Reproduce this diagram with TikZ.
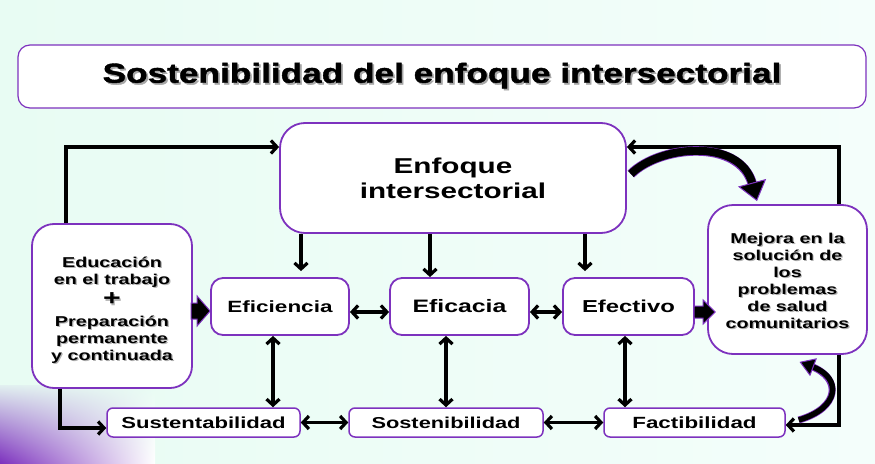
\documentclass[tikz,border=0pt]{standalone}
\usepackage{fontspec}
\setmainfont[FakeStretch=1.38]{Liberation Sans}
\newfontfamily\tfont[FakeStretch=1.28,FakeBold=1.5]{Liberation Sans Bold}
\usetikzlibrary{arrows.meta,calc,backgrounds,shadings}
\definecolor{purp}{HTML}{7D32BE}
\definecolor{bgl}{HTML}{E8FCF3}
\definecolor{bgr}{HTML}{F4FEFB}
\newcommand\shd[1]{\leavevmode\rlap{\kern1.2pt\raisebox{-1.2pt}{\textcolor{black!30}{#1}}}#1}
\newcommand\tshd[1]{\leavevmode\rlap{\kern1.8pt\raisebox{-1.8pt}{\textcolor{black!35}{#1}}}#1}
\begin{document}
\begin{tikzpicture}[x=1pt,y=-1pt,
  box/.style={draw=purp,line width=1.8pt,fill=white,align=center,inner sep=0pt},
  ln/.style={line width=3.2pt},
  arr/.style={ln,-{Straight Barb[length=6pt,width=13pt]}},
  darr/.style={ln,{Straight Barb[length=6pt,width=13pt]}-{Straight Barb[length=6pt,width=13pt]}},
  blk/.style={fill=black,draw=purp,line width=1pt}]
\useasboundingbox (0,0) rectangle (875,463);
\begin{scope}[on background layer]
  \shade[left color=bgl,right color=bgr] (0,0) rectangle (875,463);
  \shade[lower left=purp, lower right=white, upper left=purp!6!bgl, upper right=bgl] (0,385) rectangle (155,463);
\end{scope}

% title
\node[box,line width=1.2pt,rounded corners=12pt,minimum width=848pt,minimum height=63pt] (title) at (442,76.5)
  {\tfont\fontsize{27.5}{30}\selectfont\tshd{Sostenibilidad del enfoque intersectorial}};

% main nodes
\node[box,rounded corners=25pt,minimum width=346pt,minimum height=110pt,font=\bfseries\fontsize{21.5}{25}\selectfont] (enf) at (453,178) {Enfoque\\intersectorial};
\node[box,rounded corners=22pt,minimum width=160pt,minimum height=164pt,font=\bfseries\fontsize{14.3}{17}\selectfont] (edu) at (112,306)
  {\rule{0pt}{20pt}\shd{Educación}\\\shd{en el trabajo}\\[3.5pt]{\fontsize{22}{17}\selectfont\shd{+}}\\[3.5pt]\shd{Preparación}\\\shd{permanente}\\\shd{y continuada}};
\node[box,rounded corners=12pt,minimum width=138pt,minimum height=57pt,font=\bfseries\fontsize{16.3}{19}\selectfont] (efi) at (280,306.5) {Eficiencia};
\node[box,rounded corners=12pt,minimum width=139pt,minimum height=57pt,font=\bfseries\fontsize{18}{21}\selectfont] (efa) at (459.5,306.5) {Eficacia};
\node[box,rounded corners=12pt,minimum width=131pt,minimum height=57pt,font=\bfseries\fontsize{17.3}{20}\selectfont] (efe) at (628.5,306.5) {Efectivo};
\node[box,rounded corners=25pt,minimum width=159pt,minimum height=149pt,font=\bfseries\fontsize{14.3}{17}\selectfont] (mej) at (787.5,279.5)
  {\rule{0pt}{14pt}\shd{Mejora en la}\\\shd{solución de}\\\shd{los}\\\shd{problemas}\\\shd{de salud}\\\shd{comunitarios}};
\node[box,line width=1.5pt,rounded corners=6pt,minimum width=193pt,minimum height=29pt,font=\bfseries\fontsize{16}{19}\selectfont] (sus) at (203.5,422.5) {Sustentabilidad};
\node[box,line width=1.5pt,rounded corners=6pt,minimum width=194pt,minimum height=29pt,font=\bfseries\fontsize{15.8}{19}\selectfont] (sos) at (446,422.5) {Sostenibilidad};
\node[box,line width=1.5pt,rounded corners=6pt,minimum width=181pt,minimum height=29pt,font=\bfseries\fontsize{16.2}{19}\selectfont] (fac) at (694.5,422.5) {Factibilidad};

% free-end coordinates
\coordinate (rt) at (839,147);
\coordinate (lt) at (66,147);
\coordinate (p1) at ($(efi.north)+(21,-6)$);
\coordinate (p2) at ($(efa.north)+(-29.5,0)$);
\coordinate (p3) at ($(efe.north)+(-43.5,-6)$);

% loop behind Mejora box
\begin{scope}[on background layer]
  \draw[darr] ($(fac.east)+(0,2.5)$) -| (rt) -- (rt -| enf.east);
\end{scope}
\draw[arr] ($(edu.north)+(-46,0)$) |- (lt -| enf.west);
\draw[arr] ($(edu.south)+(-52,0)$) |- ($(sus.west)+(0,5.5)$);

% enfoque down arrows
\draw[arr] (p1 |- enf.south) -- (p1);
\draw[arr] (p2 |- enf.south) -- (p2);
\draw[arr] (p3 |- enf.south) -- (p3);

% horizontal double arrows
\draw[darr] ($(efi.east)+(0,5.5)$) -- ($(efa.west)+(0,5.5)$);
\draw[darr] ($(efa.east)+(0,5.5)$) -- ($(efe.west)+(0,5.5)$);
\draw[darr] (sus) -- (sos);
\draw[darr] (sos) -- (fac);

% vertical double arrows
\draw[darr] ($(efi.south)+(-7,0)$) -- ($(efi.south |- sus.north)+(-7,0)$);
\draw[darr] (sos.north |- efa.south) -- (sos.north);
\draw[darr] ($(efe.south)+(-3.5,0)$) -- ($(efe.south |- fac.north)+(-3.5,0)$);

% block arrows
\filldraw[blk] ($(efi.west)+(0,4.5)$) -- ++(-13,-15) -- ++(0,7) -- ++(-6,0) -- ++(0,16) -- ++(6,0) -- ++(0,7) -- cycle;
\filldraw[blk] ($(efe.east -| mej.west)+(8,5.5)$) -- ++(-12,-12) -- ++(0,6) -- ++(-9,0) -- ++(0,12) -- ++(9,0) -- ++(0,6) -- cycle;

% curved arrows
\coordinate (a1) at ($(enf.east)+(4,-4)$);
\coordinate (a2) at ($(mej.north -| 757,0)+(0,-3)$);
\draw[purp,line width=9.5pt,shorten >=17pt] (a1) .. controls (660,145) and (740,138) .. (a2);
\draw[black,line width=8pt,-{Triangle[length=19pt,width=29pt,fill=black,color=purp,line width=1pt]}] (a1) .. controls (660,145) and (740,138) .. (a2);
\coordinate (c1) at ($(fac.east)+(13,-2.5)$);
\coordinate (c2) at ($(mej.south)+(12,7)$);
\draw[purp,line width=7pt,shorten >=12pt] (c1) .. controls (840,408) and (842,378) .. (c2);
\draw[black,line width=5.5pt,-{Triangle[length=15pt,width=19pt,fill=black,color=purp,line width=1pt]}] (c1) .. controls (840,408) and (842,378) .. (c2);
\end{tikzpicture}
\end{document}
